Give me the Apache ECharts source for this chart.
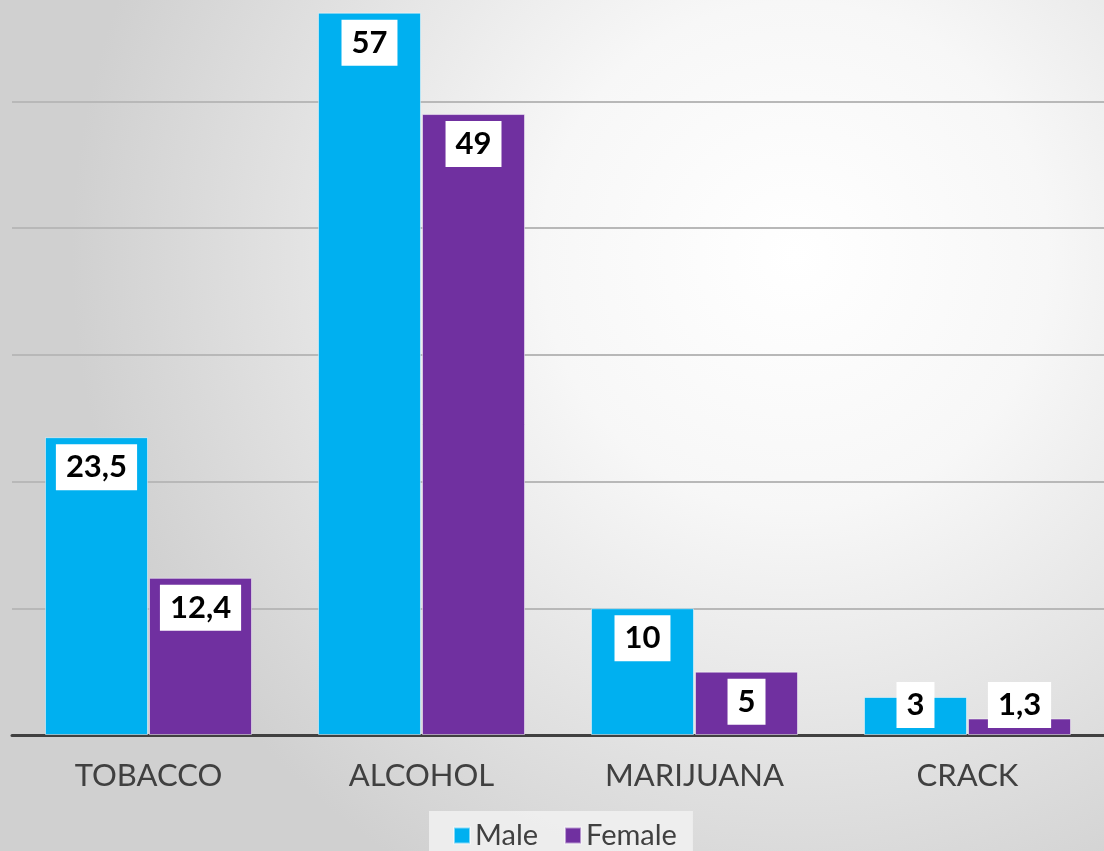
<!DOCTYPE html>
<html><head><meta charset="utf-8">
<script src="https://cdn.jsdelivr.net/npm/echarts@6/dist/echarts.min.js"></script>
<style>html,body{margin:0;padding:0;}#c{width:1104px;height:851px;}</style>
</head><body><div id="c"></div>
<script>
const categories = ['TOBACCO', 'ALCOHOL', 'MARIJUANA', 'CRACK'];
const maleValues = [23.5, 57, 10, 3];
const femaleValues = [12.4, 49, 5, 1.3];
const seriesNames = ['Male', 'Female'];

const chart = echarts.init(document.getElementById('c'));
function labelFor(v) {
  return v < 4 ? { position: 'insideBottom', distance: 7 } : { position: 'insideTop', distance: 7 };
}
function mkData(arr) {
  return arr.map(v => ({ value: v, label: labelFor(v) }));
}
const labelStyle = {
  show: true,
  formatter: p => String(p.value).replace('.', ','),
  backgroundColor: '#ffffff',
  color: '#000000',
  fontWeight: 'bold',
  fontFamily: 'Lato, "Open Sans", sans-serif',
  fontSize: 31,
  lineHeight: 34,
  padding: [6, 10]
};
chart.setOption({
  animation: false,
  backgroundColor: {
    type: 'radial', x: 0.72, y: 0.3, r: 0.85,
    colorStops: [{ offset: 0, color: '#ffffff' }, { offset: 0.35, color: '#f7f7f7' }, { offset: 1, color: '#d0d0d0' }]
  },
  grid: { left: 12, right: -4, top: 0, bottom: 116 },
  legend: {
    data: seriesNames,
    top: 811,
    left: 429,
    icon: 'rect',
    itemWidth: 16,
    itemHeight: 16,
    itemGap: 26,
    padding: [10, 16, 20, 24],
    backgroundColor: 'rgba(240,240,240,0.9)',
    textStyle: { fontSize: 29, color: '#404040', fontFamily: 'Lato, "Open Sans", sans-serif' }
  },
  xAxis: {
    type: 'category',
    data: categories,
    axisLine: { lineStyle: { color: '#404040', width: 3 } },
    axisTick: { show: false },
    axisLabel: { fontSize: 31, color: '#404040', margin: 25, fontFamily: 'Lato, "Open Sans", sans-serif' }
  },
  yAxis: {
    type: 'value', min: 0, max: 58, interval: 10,
    axisLabel: { show: false },
    axisLine: { show: false },
    axisTick: { show: false },
    splitLine: { showMaxLine: false, lineStyle: { color: '#b8b8b8', width: 2 } }
  },
  series: [
    { name: seriesNames[0], type: 'bar', data: mkData(maleValues), barWidth: 103, barGap: '1%',
      itemStyle: { color: '#00b0f0', borderColor: 'rgba(255,255,255,0.5)', borderWidth: 1 }, label: labelStyle },
    { name: seriesNames[1], type: 'bar', data: mkData(femaleValues), barWidth: 103, barGap: '1%',
      itemStyle: { color: '#7030a0', borderColor: 'rgba(255,255,255,0.5)', borderWidth: 1 }, label: labelStyle }
  ]
});
</script></body></html>
